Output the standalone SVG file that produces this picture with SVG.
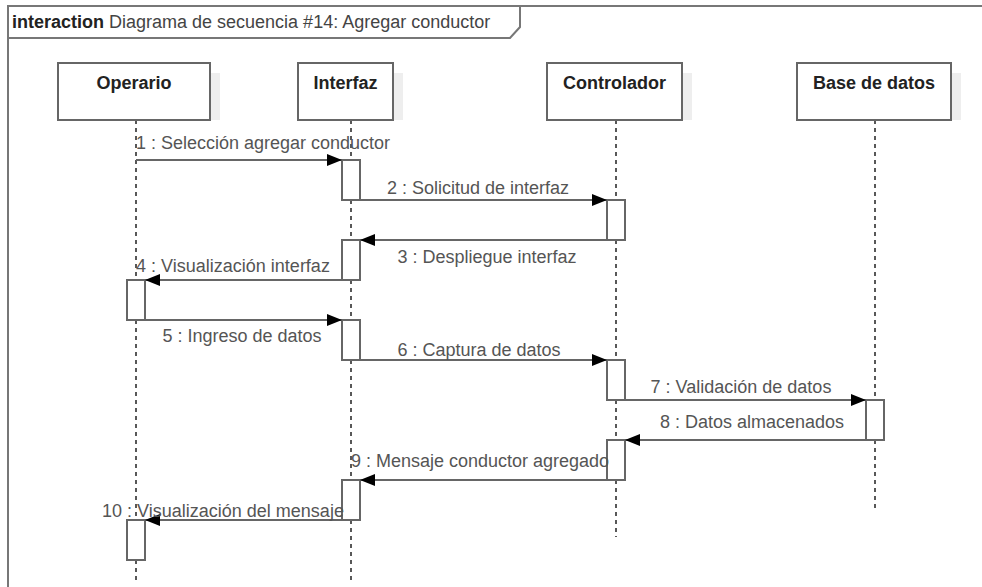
<svg xmlns="http://www.w3.org/2000/svg" width="982" height="587" viewBox="0 0 982 587">
<style>
.frame{fill:none;stroke:#777;stroke-width:2}
.box{fill:#fff;stroke:#666;stroke-width:2}
.shadow{fill:#eee;stroke:none}
.hd{font-family:"Liberation Sans",Arial,sans-serif;font-size:18px;font-weight:bold;fill:#222;text-anchor:middle}
.life{stroke:#222;stroke-width:1.5;stroke-dasharray:4,4;fill:none}
.act{fill:#fff;stroke:#666;stroke-width:2}
.msg{stroke:#666;stroke-width:2;fill:none;marker-end:url(#ah)}
.lbl{font-family:"Liberation Sans",Arial,sans-serif;font-size:18px;fill:#555;text-anchor:middle}
.title{font-family:"Liberation Sans",Arial,sans-serif;font-size:18px;fill:#444}
</style>
<defs>
<marker id="ah" markerUnits="userSpaceOnUse" markerWidth="15" markerHeight="12" refX="15" refY="6" orient="auto">
<path d="M0,0 L15,6 L0,12 z" fill="#000"/>
</marker>
</defs>
<rect width="982" height="587" fill="#fff"/>
<g id="frame">
<path class="frame" d="M8,587 L8,6 L982,6"/>
<path class="frame" d="M8,38 L510,38 L520,27 L520,6"/>
<text class="title" x="12" y="28"><tspan font-weight="bold" fill="#222">interaction</tspan> Diagrama de secuencia #14: Agregar conductor</text>
</g>
<g id="lifelines">
<line class="life" x1="136" y1="120" x2="136" y2="580"/>
<line class="life" x1="351" y1="120" x2="351" y2="580"/>
<line class="life" x1="616" y1="120" x2="616" y2="537"/>
<line class="life" x1="875" y1="120" x2="875" y2="508"/>
</g>
<g id="operario">
<rect class="shadow" x="68" y="73" width="152" height="47"/>
<rect class="box" x="58" y="63" width="152" height="57"/>
<text class="hd" x="134" y="89">Operario</text>
</g>
<g id="interfaz">
<rect class="shadow" x="308" y="73" width="95" height="47"/>
<rect class="box" x="298" y="63" width="95" height="57"/>
<text class="hd" x="345.5" y="89">Interfaz</text>
</g>
<g id="controlador">
<rect class="shadow" x="557" y="73" width="135" height="47"/>
<rect class="box" x="547" y="63" width="135" height="57"/>
<text class="hd" x="614.5" y="89">Controlador</text>
</g>
<g id="basededatos">
<rect class="shadow" x="807" y="73" width="154" height="47"/>
<rect class="box" x="797" y="63" width="154" height="57"/>
<text class="hd" x="874" y="89">Base de datos</text>
</g>
<g id="activations">
<rect class="act" x="342" y="160" width="18" height="40"/>
<rect class="act" x="607" y="200" width="18" height="40"/>
<rect class="act" x="342" y="240" width="18" height="40"/>
<rect class="act" x="127" y="280" width="18" height="40"/>
<rect class="act" x="342" y="320" width="18" height="40"/>
<rect class="act" x="607" y="360" width="18" height="40"/>
<rect class="act" x="866" y="400" width="18" height="40"/>
<rect class="act" x="607" y="440" width="18" height="40"/>
<rect class="act" x="342" y="480" width="18" height="40"/>
<rect class="act" x="127" y="520" width="18" height="40"/>
</g>
<g id="connectors">
<line class="msg" x1="136" y1="160" x2="342" y2="160"/>
<line class="msg" x1="360" y1="200" x2="607" y2="200"/>
<line class="msg" x1="607" y1="240" x2="360" y2="240"/>
<line class="msg" x1="342" y1="280" x2="145" y2="280"/>
<line class="msg" x1="145" y1="320" x2="342" y2="320"/>
<line class="msg" x1="360" y1="360" x2="607" y2="360"/>
<line class="msg" x1="625" y1="400" x2="866" y2="400"/>
<line class="msg" x1="866" y1="440" x2="625" y2="440"/>
<line class="msg" x1="607" y1="480" x2="360" y2="480"/>
<line class="msg" x1="342" y1="520" x2="145" y2="520"/>
<text class="lbl" x="263" y="149">1 : Selección agregar conductor</text>
<text class="lbl" x="478" y="194">2 : Solicitud de interfaz</text>
<text class="lbl" x="487" y="263">3 : Despliegue interfaz</text>
<text class="lbl" x="233" y="272">4 : Visualización interfaz</text>
<text class="lbl" x="242" y="342">5 : Ingreso de datos</text>
<text class="lbl" x="479" y="356">6 : Captura de datos</text>
<text class="lbl" x="741" y="393">7 : Validación de datos</text>
<text class="lbl" x="752" y="428">8 : Datos almacenados</text>
<text class="lbl" x="480" y="467">9 : Mensaje conductor agregado</text>
<text class="lbl" x="223" y="517">10 : Visualización del mensaje</text>
</g>
</svg>
